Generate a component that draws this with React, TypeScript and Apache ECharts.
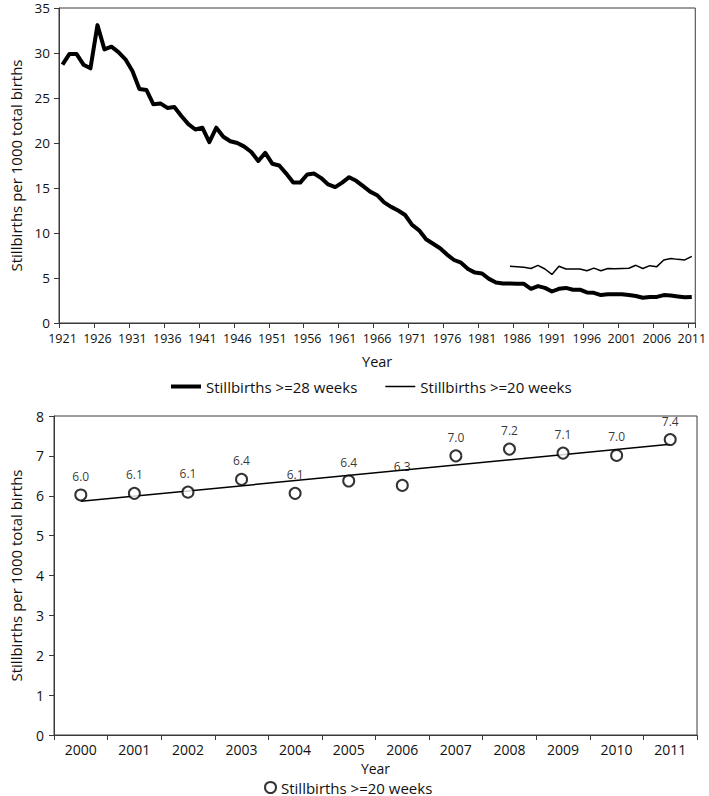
import React, { useEffect, useRef } from "react";
import * as echarts from "echarts";

// ---------- data ----------
const longYears: string[] = [];
for (let y = 1921; y <= 2011; y++) longYears.push(String(y));

// Stillbirths >= 28 weeks, 1921-2011
const stillbirths28: number[] = [
  28.7, 29.9, 29.9, 28.7, 28.3, 33.1, 30.4, 30.7, 30.1, 29.3, // 1921-1930
  28.0, 26.0, 25.9, 24.3, 24.4, 23.9, 24.0, 23.0, 22.1, 21.5, // 1931-1940
  21.7, 20.1, 21.7, 20.7, 20.2, 20.0, 19.6, 19.0, 18.0, 18.9, // 1941-1950
  17.7, 17.5, 16.6, 15.6, 15.6, 16.5, 16.6, 16.1, 15.4, 15.1, // 1951-1960
  15.6, 16.2, 15.8, 15.2, 14.6, 14.2, 13.4, 12.9, 12.5, 12.0, // 1961-1970
  10.9, 10.3, 9.3, 8.8, 8.3, 7.6, 7.0, 6.7, 6.0, 5.6,         // 1971-1980
  5.5, 4.9, 4.5, 4.4, 4.4, 4.35, 4.35, 3.8, 4.1, 3.9,          // 1981-1990
  3.5, 3.8, 3.9, 3.7, 3.7, 3.4, 3.35, 3.1, 3.2, 3.2,           // 1991-2000
  3.2, 3.1, 3.0, 2.8, 2.9, 2.9, 3.1, 3.05, 2.95, 2.85,         // 2001-2010
  2.9,                                                         // 2011
];

// Stillbirths >= 20 weeks, 1985-2011
const years20: string[] = [
  "1985", "1986", "1987", "1988", "1989", "1990", "1991", "1992", "1993",
  "1994", "1995", "1996", "1997", "1998", "1999", "2000", "2001", "2002",
  "2003", "2004", "2005", "2006", "2007", "2008", "2009", "2010", "2011",
];
const stillbirths20: number[] = [
  6.3, 6.25, 6.2, 6.05, 6.4, 6.0, 5.4, 6.3, 6.0,
  6.0, 6.0, 5.8, 6.1, 5.8, 6.05, 6.02, 6.06, 6.09,
  6.41, 6.06, 6.37, 6.26, 7.0, 7.17, 7.07, 7.01, 7.41,
];

// Bottom panel
const recentYears: string[] = [
  "2000", "2001", "2002", "2003", "2004", "2005",
  "2006", "2007", "2008", "2009", "2010", "2011",
];
const recent20: number[] = [6.02, 6.06, 6.09, 6.41, 6.06, 6.37, 6.26, 7.0, 7.17, 7.07, 7.01, 7.41];
const trendEnds: number[] = [5.86, 7.29]; // linear trend at 2000 and 2011

const LABEL28 = "Stillbirths >=28 weeks";
const LABEL20 = "Stillbirths >=20 weeks";
const Y_TITLE = "Stillbirths per 1000 total births";

// ---------- styling ----------
const FONT = '"Open Sans", "Noto Sans", sans-serif';
const TXT = "#111111";
const AX = "#3a3a3a";

export default function App() {
  const ref = useRef<HTMLDivElement>(null);

  useEffect(() => {
    if (!ref.current) return;
    const chart = echarts.init(ref.current, undefined, { renderer: "svg" });

    const axisCommon = {
      axisLine: { show: true, lineStyle: { color: AX, width: 1 } },
      axisTick: { show: true, length: 5, lineStyle: { color: AX, width: 1 } },
      splitLine: { show: false },
    };

    chart.setOption({
      animation: false,
      backgroundColor: "#ffffff",
      textStyle: { fontFamily: FONT, color: TXT },
      grid: [
        { left: 49, top: 8, width: 649, height: 315, show: true, borderColor: AX, borderWidth: 1, containLabel: false },
        { left: 50, top: 416, width: 647, height: 319, show: true, borderColor: AX, borderWidth: 1, containLabel: false },
      ],
      xAxis: [
        {
          gridIndex: 0,
          type: "category",
          data: longYears,
          boundaryGap: true,
          ...axisCommon,
          axisTick: { ...axisCommon.axisTick, interval: 4 },
          axisLabel: { interval: 4, margin: 9, fontSize: 12.5, color: TXT, fontFamily: FONT },
          name: "Year",
          nameLocation: "middle",
          nameGap: 31,
          nameTextStyle: { fontSize: 14.5, color: TXT, fontFamily: FONT },
        },
        {
          gridIndex: 1,
          type: "category",
          data: recentYears,
          boundaryGap: true,
          ...axisCommon,
          axisTick: { ...axisCommon.axisTick, interval: 0 },
          axisLabel: { interval: 0, margin: 7, fontSize: 14, color: TXT, fontFamily: FONT, lineHeight: 14 },
          name: "Year",
          nameLocation: "middle",
          nameGap: 26,
          nameTextStyle: { fontSize: 14, color: TXT, fontFamily: FONT, lineHeight: 14 },
        },
      ],
      yAxis: [
        {
          gridIndex: 0,
          type: "value",
          min: 0,
          max: 35,
          interval: 5,
          ...axisCommon,
          axisLabel: { margin: 9, fontSize: 13.5, color: TXT, fontFamily: FONT },
          name: Y_TITLE,
          nameLocation: "middle",
          nameRotate: 90,
          nameGap: 36,
          nameTextStyle: { fontSize: 15, color: TXT, fontFamily: FONT },
        },
        {
          gridIndex: 1,
          type: "value",
          min: 0,
          max: 8,
          interval: 1,
          ...axisCommon,
          axisLabel: { margin: 10, fontSize: 14, color: TXT, fontFamily: FONT },
          name: Y_TITLE,
          nameLocation: "middle",
          nameRotate: 90,
          nameGap: 31,
          nameTextStyle: { fontSize: 15, color: TXT, fontFamily: FONT },
        },
      ],
      legend: [
        {
          top: 374,
          left: 166,
          itemWidth: 30,
          itemHeight: 14,
          itemGap: 28,
          selectedMode: false,
          data: [
            { name: LABEL28, icon: "path://M0,0L30,0L30,4L0,4Z", itemStyle: { color: "#000" } },
            { name: LABEL20, icon: "path://M0,0L30,0L30,1.5L0,1.5Z", itemStyle: { color: "#000" } },
          ],
          textStyle: { fontSize: 15, color: TXT, fontFamily: FONT },
        },
        {
          top: 780,
          left: 264,
          padding: 0,
          itemWidth: 11,
          itemHeight: 11,
          selectedMode: false,
          data: ["scatter20"],
          formatter: () => LABEL20,
          textStyle: { fontSize: 15, color: TXT, fontFamily: FONT, lineHeight: 14 },
        },
      ],
      series: [
        {
          name: LABEL28,
          type: "line",
          xAxisIndex: 0,
          yAxisIndex: 0,
          data: stillbirths28,
          symbol: "none",
          lineStyle: { width: 4, color: "#000", join: "round" },
          itemStyle: { color: "#000" },
        },
        {
          name: LABEL20,
          type: "line",
          xAxisIndex: 0,
          yAxisIndex: 0,
          data: years20.map((y, i) => [y, stillbirths20[i]]),
          symbol: "none",
          lineStyle: { width: 1.5, color: "#000" },
          itemStyle: { color: "#000" },
        },
        {
          name: "Linear trend",
          type: "line",
          xAxisIndex: 1,
          yAxisIndex: 1,
          data: [
            [recentYears[0], trendEnds[0]],
            [recentYears[recentYears.length - 1], trendEnds[1]],
          ],
          symbol: "none",
          lineStyle: { width: 1.5, color: "#000" },
          itemStyle: { color: "#000" },
          z: 1,
        },
        {
          name: "scatter20",
          type: "scatter",
          xAxisIndex: 1,
          yAxisIndex: 1,
          data: recent20,
          symbol: "circle",
          symbolSize: 11,
          itemStyle: { color: "#ffffff", borderColor: "#000", borderWidth: 2 },
          z: 3,
          label: {
            show: true,
            position: "top",
            distance: 6,
            fontSize: 12,
            color: "#000",
            fontFamily: FONT,
            formatter: (p: any) => {
              const v = Array.isArray(p.value) ? p.value[1] : p.value;
              return Number(v).toFixed(1);
            },
          },
        },
      ],
    });

    return () => chart.dispose();
  }, []);

  return (
    <div
      ref={ref}
      style={{ position: "absolute", left: 0, top: 0, width: 709, height: 796, background: "#fff" }}
    />
  );
}
